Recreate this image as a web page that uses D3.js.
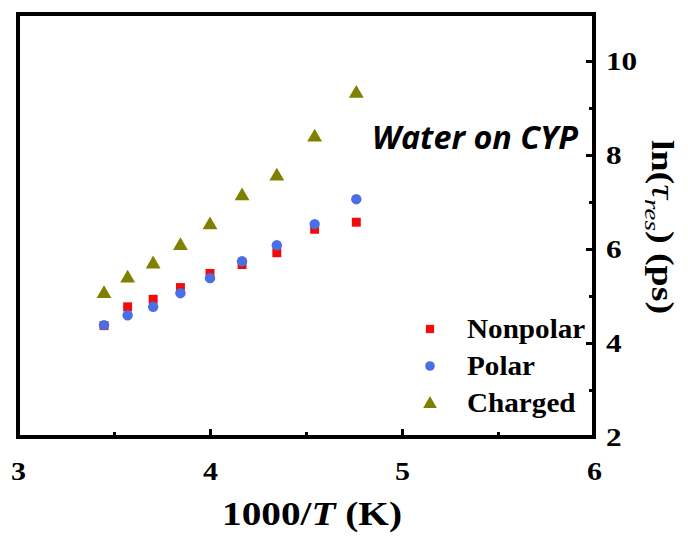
<!DOCTYPE html>
<html>
<head>
<meta charset="utf-8">
<script src="https://cdn.jsdelivr.net/npm/d3@7"></script>
<style>
  body { margin: 0; background: #fff; }
  svg { display: block; }
  .serif { font-family: "Liberation Serif", "Times New Roman", serif; font-weight: bold; }
</style>
</head>
<body>
<svg width="688" height="537"></svg>
<script>
// x values: 1000/T
var invT = [3.448, 3.571, 3.704, 3.846, 4.0, 4.167, 4.348, 4.545, 4.762]
// ln(tau_res) per residue type
var nonpolar = [4.37, 4.77, 4.93, 5.18, 5.48, 5.67, 5.92, 6.42, 6.57]
var polar = [4.38, 4.59, 4.77, 5.06, 5.38, 5.74, 6.08, 6.53, 7.06]
var charged = [5.07, 5.40, 5.70, 6.09, 6.53, 7.15, 7.57, 8.40, 9.33]

var seriesNames = ["Nonpolar", "Polar", "Charged"]
var seriesColors = ["#f50a0a", "#4a6fe3", "#808000"]
var xTicks = [3, 4, 5, 6]
var xMinor = [3.5, 4.5, 5.5]
var yTicks = [2, 4, 6, 8, 10]
var yMinor = [3, 5, 7, 9]

var svg = d3.select("svg")
var pLeft = 18, pRight = 594, pTop = 14, pBottom = 437

var x = d3.scaleLinear().domain([3, 6]).range([pLeft, pRight])
var y = d3.scaleLinear().domain([2, 11]).range([pBottom, pTop])

// stretch helper: text in the picture is wider than the fonts we have
function stretch(sel, k) {
  sel.each(function() {
    var w = this.getComputedTextLength()
    d3.select(this).attr("textLength", w * k).attr("lengthAdjust", "spacingAndGlyphs")
  })
}

/* minor ticks */
svg.append("g")
  .attr("transform", "translate(0," + pBottom + ")")
  .call(d3.axisBottom(x).tickValues(xMinor).tickSize(-5).tickFormat(""))
  .call(g => g.select(".domain").remove())
  .selectAll("line").attr("stroke-width", 3)
svg.append("g")
  .attr("transform", "translate(" + pRight + ",0)")
  .call(d3.axisRight(y).tickValues(yMinor).tickSize(-5).tickFormat(""))
  .call(g => g.select(".domain").remove())
  .selectAll("line").attr("stroke-width", 3)

/* major ticks + labels */
var xAxis = svg.append("g")
  .attr("transform", "translate(0," + pBottom + ")")
  .call(d3.axisBottom(x).tickValues(xTicks).tickSize(-8).tickPadding(25).tickFormat(d3.format("d")))
xAxis.select(".domain").remove()
xAxis.selectAll("line").attr("stroke-width", 3)
xAxis.selectAll("text").attr("class", "serif").attr("font-size", 25).attr("fill", "#000")

var yAxis = svg.append("g")
  .attr("transform", "translate(" + pRight + ",0)")
  .call(d3.axisRight(y).tickValues(yTicks).tickSize(-8).tickPadding(12).tickFormat(d3.format("d")))
yAxis.select(".domain").remove()
yAxis.selectAll("line").attr("stroke-width", 3)
yAxis.selectAll("text").attr("class", "serif").attr("font-size", 26).attr("fill", "#000")

/* frame */
svg.append("rect")
  .attr("x", pLeft).attr("y", pTop)
  .attr("width", pRight - pLeft).attr("height", pBottom - pTop)
  .attr("fill", "none").attr("stroke", "#000").attr("stroke-width", 4)

/* points */
var symbols = [d3.symbolSquare, d3.symbolCircle, d3.symbolTriangle]
var sizes = [80, 85, 95]
var allData = [nonpolar, polar, charged]

allData.forEach(function(vals, s) {
  svg.append("g")
    .selectAll("path")
    .data(vals)
    .enter().append("path")
    .attr("d", d3.symbol().type(symbols[s]).size(sizes[s]))
    .attr("transform", function(d, i) {
      var dy = s == 2 ? 1 : 0
      return "translate(" + x(invT[i]) + "," + (y(d) + dy) + ")"
    })
    .attr("fill", seriesColors[s])
})

/* legend */
var legend = svg.append("g")
seriesNames.forEach(function(name, i) {
  var ly = 329 + i * 37
  legend.append("path")
    .attr("d", d3.symbol().type(symbols[i]).size(sizes[i] * 0.85))
    .attr("transform", "translate(430," + (ly + (i == 2 ? 1 : 0)) + ")")
    .attr("fill", seriesColors[i])
  legend.append("text")
    .attr("class", "serif legend")
    .attr("x", 467).attr("y", ly + 9)
    .attr("font-size", 27)
    .text(name)
})

/* annotation */
svg.append("text")
  .attr("x", 372).attr("y", 149)
  .attr("font-family", "'Open Sans', sans-serif")
  .attr("font-weight", "bold").attr("font-style", "italic")
  .attr("font-size", 33)
  .attr("textLength", 206).attr("lengthAdjust", "spacingAndGlyphs")
  .text("Water on CYP")

/* x title */
var xt = svg.append("text")
  .attr("class", "serif")
  .attr("x", 222).attr("y", 525)
  .attr("font-size", 33)
xt.append("tspan").text("1000/")
xt.append("tspan").attr("font-style", "italic").text("T")
xt.append("tspan").text(" (K)")
xt.attr("textLength", 180).attr("lengthAdjust", "spacingAndGlyphs")

/* y title, on the right, reading downward */
var yt = svg.append("text")
  .attr("class", "serif")
  .attr("transform", "translate(652,140) rotate(90)")
  .attr("font-size", 31)
yt.append("tspan").text("ln(")
yt.append("tspan").attr("font-style", "italic").attr("font-weight", "normal").attr("font-size", 34).text("\u03c4")
yt.append("tspan").attr("font-style", "italic").attr("font-weight", "normal").attr("font-size", 22).attr("dy", 7).text("res")
yt.append("tspan").attr("dy", -7).text(") (ps)")
yt.attr("textLength", 174).attr("lengthAdjust", "spacingAndGlyphs")

stretch(svg.selectAll(".tick text"), 1.2)
stretch(svg.selectAll(".legend"), 1.08)
</script>
</body>
</html>
